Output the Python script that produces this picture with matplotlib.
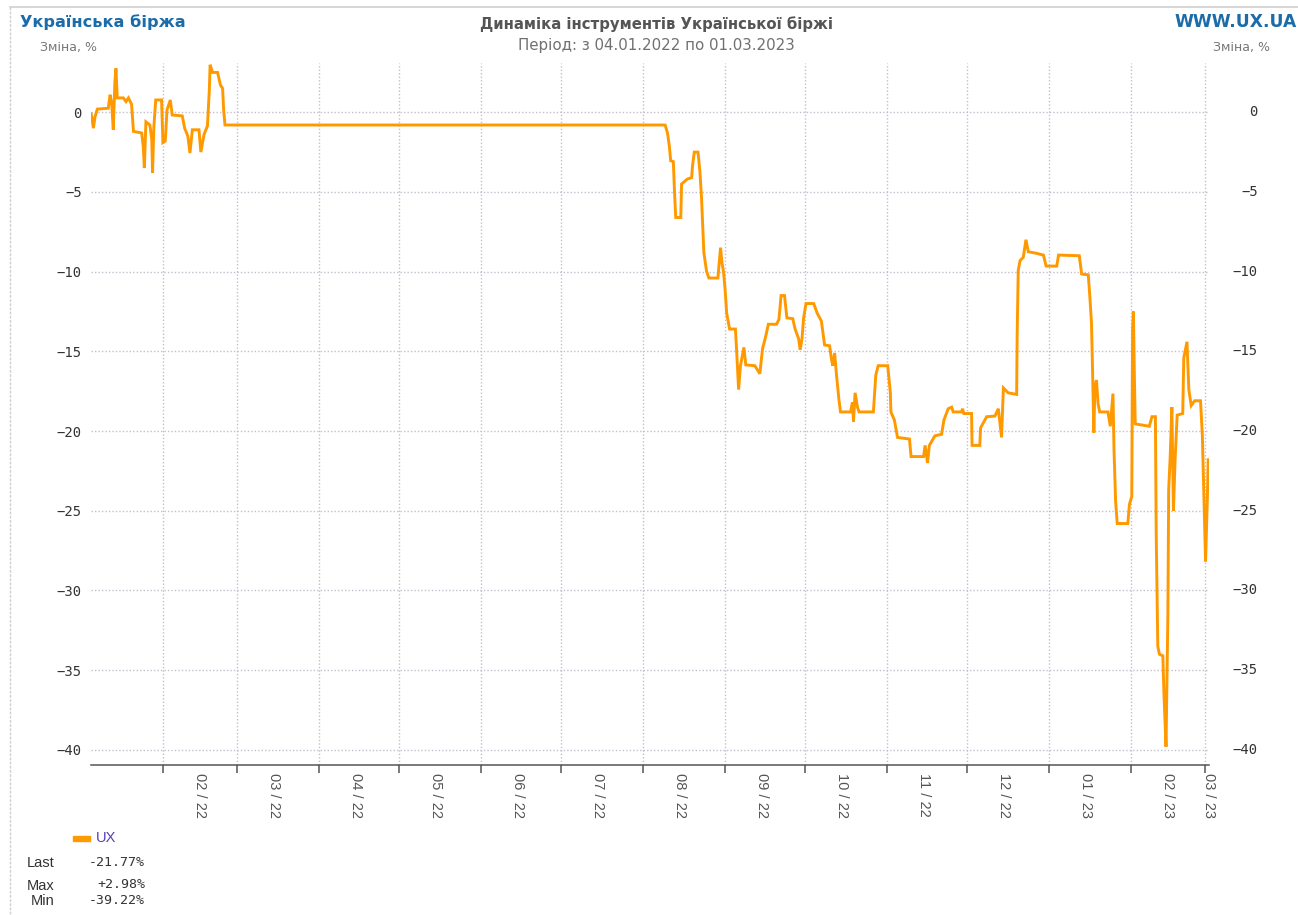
import matplotlib
matplotlib.use("Agg")
import matplotlib.pyplot as plt
import matplotlib.transforms as mtransforms
from matplotlib.patches import Rectangle
from matplotlib.lines import Line2D
import pandas as pd

# ---------------- data ----------------
REF_DATE = "2022-01-01"   # day 0 of the day-offset axis
AXIS_START_DAY = 4.0
AXIS_END_DAY = 425.4

# day offsets (days since 2022-01-01) and change, %
day = [4.0, 4.3, 4.9, 5.5, 6.4, 10.5, 11.2, 11.8, 12.4, 13.0, 13.4, 13.9, 16.2, 17.2,
       18.1, 19.3, 20.0, 23.1, 23.7, 24.1, 24.7, 26.2, 26.9, 27.2, 27.7, 28.4, 30.6,
       31.1, 32.0, 32.65, 33.9, 34.6, 38.4, 39.3, 40.5, 41.3, 42.2, 44.7, 45.4, 46.6,
       47.9, 48.6, 48.9, 49.8, 51.7, 52.8, 53.6, 54.0, 54.5,
       220.4, 221.3, 222.0, 222.5, 223.5, 223.9, 224.4, 226.3, 226.6, 227.3, 228.7,
       230.4, 230.7, 231.4, 232.8, 233.5, 234.1, 234.5, 235.0, 236.0, 236.9, 240.3,
       240.7, 241.3, 241.8, 242.4,
       243.0, 243.6, 244.7, 246.9, 247.4, 248.1, 248.8, 250.1, 250.8, 254.2, 256.1,
       257.1, 258.4, 259.3, 262.4, 263.3, 264.1, 265.4, 266.3, 268.5, 269.4, 270.7,
       271.3, 272.0, 272.6,
       273.5, 276.4, 277.7, 279.3, 280.5, 282.4, 283.1, 283.6, 284.3, 285.0, 285.9,
       286.5, 290.3, 291.0, 291.4, 292.0, 292.9, 293.5, 298.9, 299.8, 300.7, 304.3,
       305.3, 305.5,
       306.8, 308.0, 312.5, 313.1, 317.8, 318.4, 319.3, 320.0, 322.1, 324.6, 325.5,
       327.1, 328.4, 329.0, 332.1, 332.5, 333.0,
       335.9, 336.1, 339.0, 339.3, 341.6, 344.7, 346.0, 346.6, 347.2, 347.9, 349.7,
       352.9, 353.1, 353.5, 354.2, 355.4, 356.4, 357.3, 360.4, 363.0, 364.0,
       368.0, 368.7, 376.5, 377.4, 379.9, 380.5, 381.1, 381.5, 382.0, 382.4, 383.0,
       383.6, 384.2, 387.3, 388.2, 389.2, 389.6, 390.2, 390.8, 394.8, 395.4,
       396.3, 396.6, 396.9, 397.3, 397.6, 402.9, 403.9, 405.2, 405.5, 406.1, 406.7,
       408.0, 408.4, 409.2, 409.9, 410.2, 410.8, 411.4, 412.0, 412.6, 413.4, 415.5,
       415.9, 417.1, 417.8, 418.7, 420.0, 422.2, 422.9, 423.4, 424.1, 424.8, 425.1]

change = [-0.1, -0.3, -1.0, -0.3, 0.2, 0.25, 1.1, 0.56, -1.1, 1.9, 2.75, 0.9, 0.9, 0.67,
          0.9, 0.5, -1.2, -1.3, -2.15, -3.5, -0.6, -0.8, -1.7, -3.8, -0.9, 0.77, 0.77,
          -1.9, -1.8, 0.15, 0.77, -0.17, -0.23, -1.0, -1.5, -2.56, -1.1, -1.1, -2.5, -1.4,
          -0.85, 1.4, 2.98, 2.5, 2.5, 1.7, 1.5, 0.15, -0.8,
          -0.8, -1.3, -2.15, -3.04, -3.1, -4.85, -6.6, -6.6, -4.5, -4.4, -4.2,
          -4.1, -3.4, -2.5, -2.5, -3.7, -5.3, -6.9, -8.8, -9.96, -10.4, -10.4,
          -9.6, -8.5, -9.4, -10.0,
          -11.1, -12.6, -13.6, -13.6, -15.1, -17.4, -15.9, -14.75, -15.85, -15.9, -16.4,
          -14.85, -14.0, -13.3, -13.3, -13.0, -11.5, -11.5, -12.9, -12.95, -13.6, -14.2,
          -14.9, -14.2, -12.9,
          -12.0, -12.0, -12.6, -13.1, -14.6, -14.65, -15.5, -15.9, -15.1, -16.5, -18.0,
          -18.8, -18.8, -18.2, -19.4, -17.6, -18.5, -18.8, -18.8, -16.5, -15.9, -15.9,
          -17.6, -18.8,
          -19.3, -20.4, -20.5, -21.6, -21.6, -20.9, -22.0, -20.9, -20.3, -20.2, -19.3,
          -18.6, -18.5, -18.8, -18.8, -18.6, -18.9,
          -18.9, -20.9, -20.9, -19.8, -19.1, -19.06, -18.6, -19.5, -20.4, -17.3, -17.6,
          -17.7, -13.85, -9.9, -9.3, -9.1, -8.0, -8.75, -8.85, -8.96, -9.65,
          -9.65, -8.96, -9.0, -10.15, -10.2, -11.6, -13.2, -16.1, -20.1, -17.2, -16.8,
          -18.3, -18.8, -18.8, -19.7, -17.65, -21.2, -24.4, -25.8, -25.8, -24.6,
          -24.1, -13.6, -12.5, -16.8, -19.55, -19.7, -19.1, -19.1, -26.4, -33.5, -34.0,
          -34.1, -36.4, -39.8, -31.5, -23.7, -21.5, -18.5, -25.0, -21.9, -19.0, -18.9,
          -15.4, -14.4, -17.4, -18.4, -18.1, -18.1, -20.3, -23.7, -28.2, -24.1, -21.8]

month_starts = ["2022-02-01", "2022-03-01", "2022-04-01", "2022-05-01", "2022-06-01",
                "2022-07-01", "2022-08-01", "2022-09-01", "2022-10-01", "2022-11-01",
                "2022-12-01", "2023-01-01", "2023-02-01", "2023-03-01"]
month_labels = ["02 / 22", "03 / 22", "04 / 22", "05 / 22", "06 / 22", "07 / 22",
                "08 / 22", "09 / 22", "10 / 22", "11 / 22", "12 / 22", "01 / 23",
                "02 / 23", "03 / 23"]
y_ticks = [0, -5, -10, -15, -20, -25, -30, -35, -40]

series_name = "UX"
stats_labels = ["Last", "Max", "Min"]
stats_values = ["-21.77%", "+2.98%", "-39.22%"]

# ---------------- layout helpers ----------------
W, H = 1298, 915
def fx(px):
    return px / W
def fy(py):
    return 1 - py / H

ORANGE = "#FF9900"
GRID = "#c5bdcc"
AX_COL = "#555555"
BLUE = "#1b6ca8"
MONO = "DejaVu Sans Mono"

fig = plt.figure(figsize=(W / 100, H / 100), dpi=100)
fig.patch.set_facecolor("white")

AX_L, AX_R, AX_T, AX_B = 91, 1209, 63, 765
ax = fig.add_axes([fx(AX_L), fy(AX_B), (AX_R - AX_L) / W, (AX_B - AX_T) / H])

ref = pd.Timestamp(REF_DATE)
month_days = [(pd.Timestamp(m) - ref).days for m in month_starts]

ax.plot(day, change, color=ORANGE, lw=2.1, solid_joinstyle="miter", zorder=3)

ax.set_xlim(AXIS_START_DAY, AXIS_END_DAY)
ax.set_ylim(-40.95, 3.09)

# y gridlines / labels
def fmt(v):
    return str(v).replace("-", "\u2212")

ax.set_yticks(y_ticks)
ax.set_yticklabels([fmt(v) for v in y_ticks], fontfamily=MONO, fontsize=10,
                   color="#333333")
ax.tick_params(axis="y", length=0, pad=6.5)
ax.yaxis.grid(True, linestyle=(0, (1, 1.5)), color=GRID, lw=1.0)

# x month gridlines / ticks
ax.set_xticks(month_days)
ax.set_xticklabels([])
ax.tick_params(axis="x", which="major", direction="out", length=6, width=1.1,
               color=AX_COL)
ax.xaxis.grid(True, which="major", linestyle=(0, (1, 1.5)), color=GRID, lw=1.0)

label_pos = []
for i, d in enumerate(month_days):
    if i + 1 < len(month_days):
        label_pos.append(d + 14)
    else:
        label_pos.append(d + min(14, AXIS_END_DAY - d))
ax.set_xticks(label_pos, minor=True)
ax.set_xticklabels(month_labels, minor=True, rotation=270, fontsize=10.5,
                   fontfamily="Liberation Sans", color="#555555")
ax.tick_params(axis="x", which="minor", length=0, pad=6)
ax.set_axisbelow(True)

for s in ["left", "right", "top"]:
    ax.spines[s].set_visible(False)
ax.spines["bottom"].set_color(AX_COL)
ax.spines["bottom"].set_linewidth(1.1)

# right-side y labels
trans = mtransforms.blended_transform_factory(ax.transAxes, ax.transData)
for v in y_ticks:
    ax.text((1258 - AX_L) / (AX_R - AX_L), v, fmt(v), transform=trans,
            ha="right", va="center", fontfamily=MONO, fontsize=10,
            color="#333333")

# ---------------- titles ----------------
fig.text(fx(20), fy(22), "Українська біржа", ha="left", va="center",
         fontsize=11.6, fontweight="bold", color=BLUE, fontfamily="DejaVu Sans")
fig.text(fx(1297), fy(22), "WWW.UX.UA", ha="right", va="center",
         fontsize=12.3, fontweight="bold", color=BLUE, fontfamily="DejaVu Sans")
fig.text(fx(657), fy(24), "Динаміка інструментів Української біржі", ha="center",
         va="center", fontsize=10.7, fontweight="bold", color="#555555",
         fontfamily="DejaVu Sans")
fig.text(fx(656), fy(45), "Період: з 04.01.2022 по 01.03.2023", ha="center",
         va="center", fontsize=10.8, color="#707070", fontfamily="DejaVu Sans")
fig.text(fx(40), fy(47), "Зміна, %", ha="left", va="center", fontsize=9,
         color="#777777", fontfamily="DejaVu Sans")
fig.text(fx(1213), fy(47), "Зміна, %", ha="left", va="center", fontsize=9,
         color="#777777", fontfamily="DejaVu Sans")

# ---------------- legend block ----------------
fig.patches.append(Rectangle((fx(73), fy(841)), 17 / W, 5 / H,
                             transform=fig.transFigure, color=ORANGE))
fig.text(fx(96), fy(838), series_name, ha="left", va="center", fontsize=10.5,
         color="#5a3fb5", fontfamily="Liberation Sans")
stat_y = [863, 886, 901]
for lab, val, yy in zip(stats_labels, stats_values, stat_y):
    fig.text(fx(54), fy(yy), lab, ha="right", va="center", fontsize=10.5,
             color="#333333", fontfamily="Liberation Sans")
    fig.text(fx(145), fy(yy - 1), val, ha="right", va="center", fontsize=9.5,
             color="#333333", fontfamily=MONO)

# ---------------- outer frame lines ----------------
fig.add_artist(Line2D([fx(10), 1], [fy(7), fy(7)], transform=fig.transFigure,
                      color="#d0d0d0", lw=1.2))
fig.add_artist(Line2D([fx(10), fx(10)], [fy(7), 0], transform=fig.transFigure,
                      color="#d0d0d0", lw=1.0, linestyle=(0, (2, 1))))

fig.savefig("out.png", dpi=100, facecolor="white")
